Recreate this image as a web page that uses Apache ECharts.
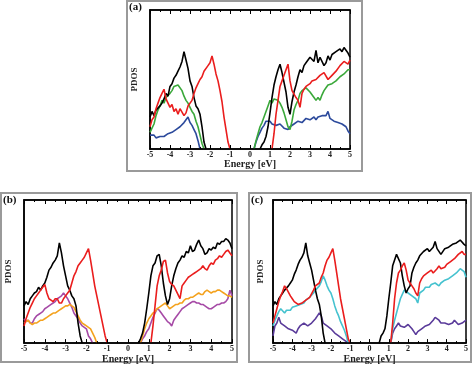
<!DOCTYPE html>
<html><head><meta charset="utf-8">
<script src="https://cdn.jsdelivr.net/npm/echarts@6/dist/echarts.min.js"></script>
<style>html,body{margin:0;padding:0;background:#fff}#c{width:474px;height:365px}</style>
</head><body><div id="c"></div>
<script>
// Valence arrays start at -5.0 eV, conduction arrays end at 5.0 eV; step 0.1 eV. Arbitrary PDOS units (0-100).
// ---- Panel (a)
const A_BLACK_VB = [23,27,24,28,27,31,33,36,40,38,45,47,51,53,56,59,63,70,64,58,49,45,37,31,29,25,16,5,0];
const A_BLACK_CB = [0,3,5,9,16,26,37,46,52,57,61,55,54,41,30,25,34,41,46,52,57,55,60,62,64,66,67,63,71,62,66,65,60,62,67,64,68,67,70,69,72,70,73,72,69,66];
const A_RED_VB = [16,21,23,29,33,37,40,43,36,33,30,32,27,29,25,29,28,24,26,31,30,35,40,44,47,50,52,56,57,60,62,67,61,54,49,42,34,23,14,5,0];
const A_RED_CB = [0,11,25,35,45,49,53,52,61,49,42,41,37,35,30,40,43,45,44,47,49,48,50,50,53,52,55,54,50,49,53,53,56,57,60,59,63,64,61,64];
const A_GREEN_VB = [12,15,18,24,28,31,35,33,37,36,40,42,45,44,46,46,42,38,35,33,30,27,25,20,16,10,4,0];
const A_GREEN_CB = [0,6,11,16,19,23,27,31,35,33,36,37,35,33,30,26,21,16,14,20,28,32,35,40,42,41,44,45,41,40,37,35,37,35,39,42,44,46,45,47,46,49,50,52,51,54,55,57,57];
const A_BLUE_VB = [10,9,10,8,8,9,10,9,9,11,11,12,12,14,15,16,17,19,21,23,19,17,14,11,6,0];
const A_BLUE_CB = [0,5,9,12,15,17,20,21,20,18,19,17,16,18,17,15,16,14,16,17,18,17,20,21,19,20,22,21,21,22,23,21,23,22,24,25,24,27,22,21,20,20,19,18,18,17,16,13,11];
// ---- Panel (b)
const B_BLACK_VB = [26,29,27,31,33,35,36,39,37,40,42,46,51,53,56,58,61,70,63,54,47,40,37,33,31,26,14,5,0];
const B_BLACK_CB = [0,3,7,14,24,35,47,54,56,61,62,54,42,33,27,31,40,47,52,56,58,61,60,64,63,68,64,65,69,72,68,66,62,63,66,65,67,66,70,69,71,71,73,72,70,66];
const B_RED_VB = [12,17,21,25,28,31,33,35,37,39,41,35,31,30,29,31,31,28,28,31,33,35,37,42,47,50,54,56,58,60,63,66,58,49,40,33,26,19,12,5,0];
const B_RED_CB = [0,12,26,40,47,51,57,58,49,43,41,40,37,34,31,40,42,44,46,47,48,49,50,51,52,54,52,51,54,56,55,58,59,61,60,62,64,65,63,61];
const B_PURPLE_VB = [17,15,16,14,14,17,19,20,21,22,24,25,26,27,28,29,31,32,33,35,33,31,28,25,21,19,17,14,12,11,10,5,3,0];
const B_PURPLE_CB = [0,3,5,8,10,14,18,21,24,23,21,19,17,15,14,12,16,18,20,22,24,25,26,27,28,29,29,28,28,27,27,26,25,24,24,25,26,27,27,28,28,29,31,37,33];
const B_ORANGE_VB = [14,15,16,14,13,14,14,15,16,16,17,18,19,20,21,21,22,23,24,25,26,26,27,26,25,22,19,16,14,13,12,11,10,7,4,0];
const B_ORANGE_CB = [0,5,10,14,17,19,21,22,24,25,26,27,28,26,24,25,26,27,27,28,28,30,31,31,32,32,33,34,35,34,34,36,37,36,35,36,36,37,37,36,35,34,33,33,32];
// ---- Panel (c)
const C_BLACK_VB = [26,29,27,31,33,35,37,36,40,42,44,48,51,55,58,60,63,70,61,56,51,44,37,31,27,19,7,0];
const C_BLACK_CB = [0,5,7,10,19,31,42,54,58,62,61,56,47,40,35,38,40,49,53,56,58,61,60,64,63,66,64,65,67,71,66,65,62,63,66,66,67,67,69,68,70,70,72,72,69,68];
const C_RED_VB = [14,19,24,29,33,36,40,38,37,33,31,29,28,27,26,28,28,30,31,32,33,37,40,41,42,46,49,54,58,60,63,66,58,49,40,31,24,17,10,3,0];
const C_RED_CB = [0,14,31,42,49,51,54,56,51,44,42,40,38,35,33,42,45,47,48,49,50,51,49,50,52,54,52,51,53,55,56,57,58,59,60,62,63,64,62,62];
const C_CYAN_VB = [12,16,19,22,24,23,21,23,24,23,25,26,26,25,27,28,28,30,31,32,33,35,37,38,40,43,47,44,40,37,35,31,26,22,19,15,12,9,5,0];
const C_CYAN_CB = [0,10,16,21,26,31,34,37,36,35,34,33,32,31,28,35,36,37,39,40,39,41,42,42,41,40,42,43,44,44,45,46,47,48,49,50,52,53,50,46];
const C_PURPLE_VB = [5,12,14,18,14,13,12,11,10,10,9,8,7,10,12,13,14,13,12,13,14,15,17,19,21,19,14,13,12,11,10,9,7,6,5,4,3,2,1,0];
const C_PURPLE_CB = [0,7,10,12,14,12,11,11,12,13,12,10,8,6,8,9,10,11,12,12,13,14,16,18,17,16,14,13,14,14,13,12,14,16,15,13,14,14,15,16];

const PANEL_LABELS = ['(a)', '(b)', '(c)'];
const X_LABEL = 'Energy [eV]';
const Y_LABEL = 'PDOS';

const COL = {black:'#000000', red:'#ea1d1d', green:'#3aa83a', blue:'#2c4a9c', magenta:'#a64aa6', orange:'#f4a21e', cyan:'#45c2cf', violet:'#5a3b9a'};

const panelSeries = [
  [[COL.blue, A_BLUE_VB, A_BLUE_CB],[COL.green, A_GREEN_VB, A_GREEN_CB],[COL.black, A_BLACK_VB, A_BLACK_CB],[COL.red, A_RED_VB, A_RED_CB]],
  [[COL.magenta, B_PURPLE_VB, B_PURPLE_CB],[COL.orange, B_ORANGE_VB, B_ORANGE_CB],[COL.black, B_BLACK_VB, B_BLACK_CB],[COL.red, B_RED_VB, B_RED_CB]],
  [[COL.violet, C_PURPLE_VB, C_PURPLE_CB],[COL.cyan, C_CYAN_VB, C_CYAN_CB],[COL.black, C_BLACK_VB, C_BLACK_CB],[COL.red, C_RED_VB, C_RED_CB]]
];

function seg(vals, start){ return vals.map((v,i)=>[+(start + i*0.1).toFixed(2), v]); }
function vb(vals){ return seg(vals, -5); }
function cb(vals){ return seg(vals, 5 - (vals.length-1)*0.1); }

const grids = [
  {left:150, top:10, width:200, height:139},
  {left:24, top:200, width:208, height:144},
  {left:273, top:200, width:193, height:144}
];
const yNameGap = [11, 11, 8];
const FONT = 'Liberation Serif';

const xAxis = [], yAxis = [], series = [];
grids.forEach((g,i)=>{
  g.show = true; g.borderColor = '#000'; g.borderWidth = 1.5; g.backgroundColor='transparent';
  xAxis.push({type:'value', gridIndex:i, min:-5, max:5, interval:1, position:'bottom',
    name:X_LABEL, nameLocation:'middle', nameGap:9,
    nameTextStyle:{fontFamily:FONT, fontWeight:'bold', fontSize:10, color:'#222'},
    axisLine:{show:true, onZero:false, lineStyle:{color:'#000', width:1.5}},
    axisTick:{show:true, inside:true, length:4, lineStyle:{color:'#000'}},
    minorTick:{show:true, splitNumber:2, length:2, lineStyle:{color:'#000'}},
    axisLabel:{margin:2, fontFamily:FONT, fontWeight:'bold', fontSize:8, color:'#222'},
    splitLine:{show:false}, z:10});
  xAxis.push({type:'value', gridIndex:i, min:-5, max:5, interval:1, position:'top',
    axisLine:{show:true, onZero:false, lineStyle:{color:'#000', width:1.5}},
    axisTick:{show:true, inside:true, length:4, lineStyle:{color:'#000'}},
    minorTick:{show:true, splitNumber:2, length:2, lineStyle:{color:'#000'}},
    axisLabel:{show:false}, splitLine:{show:false}});
  yAxis.push({type:'value', gridIndex:i, min:0, max:100, position:'left',
    name:Y_LABEL, nameLocation:'middle', nameRotate:90, nameGap:yNameGap[i],
    nameTextStyle:{fontFamily:FONT, fontWeight:'bold', fontSize:9, color:'#222'},
    axisLine:{show:true, onZero:false, lineStyle:{color:'#000', width:1.5}},
    axisTick:{show:false}, axisLabel:{show:false}, splitLine:{show:false}});
  panelSeries[i].forEach(([color, v, c])=>{
    [vb(v), cb(c)].forEach(d=>{
      series.push({type:'line', xAxisIndex:2*i, yAxisIndex:i, data:d, showSymbol:false, symbol:'none',
        lineStyle:{color:color, width:1.6}, itemStyle:{color:color}, animation:false, silent:true});
    });
  });
});

const frames = [
  {x:127, y:1, w:235, h:170, lx:129, ly:2},
  {x:1, y:193, w:236, h:169, lx:3, ly:195},
  {x:249, y:193, w:222, h:169, lx:251, ly:195}
];
const graphic = [];
frames.forEach((f,i)=>{
  graphic.push({type:'rect', shape:{x:f.x, y:f.y, width:f.w, height:f.h}, style:{fill:'none', stroke:'#9a9a9a', lineWidth:2}, silent:true});
  graphic.push({type:'text', x:f.lx, y:f.ly, style:{text:PANEL_LABELS[i], font:'bold 11px "Liberation Serif"', fill:'#111'}, silent:true});
});

const chart = echarts.init(document.getElementById('c'), null, {renderer:'canvas'});
chart.setOption({animation:false, backgroundColor:'#fff', grid:grids, xAxis, yAxis, series, graphic});
</script>
</body></html>
